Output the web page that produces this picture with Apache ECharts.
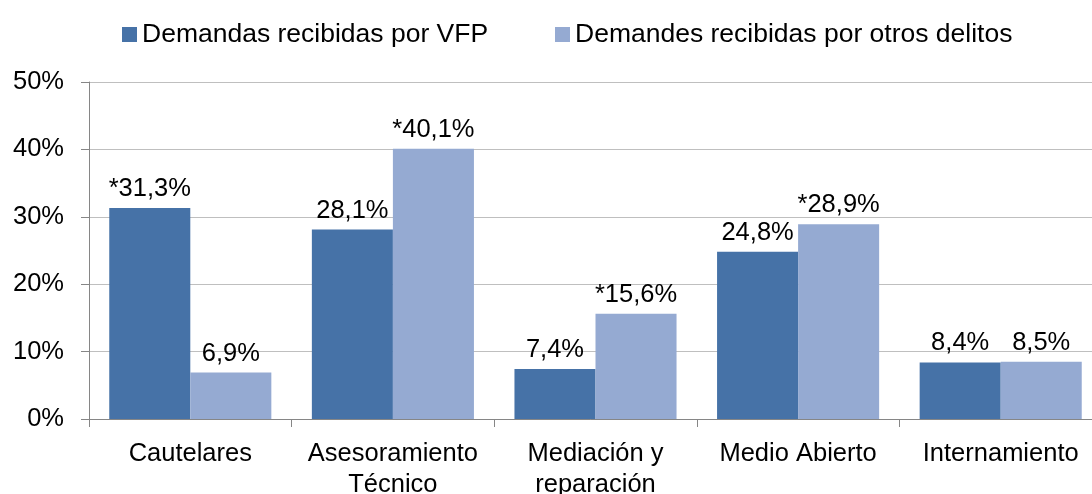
<!DOCTYPE html>
<html><head><meta charset="utf-8">
<style>html,body{margin:0;padding:0;background:#fff}#c{width:1092px;height:494px}</style>
<script src="https://cdn.jsdelivr.net/npm/echarts@6/dist/echarts.min.js"></script>
</head><body><div id="c"></div>
<script>
const categories = ['Cautelares', 'Asesoramiento\nTécnico', 'Mediación y\nreparación', 'Medio Abierto', 'Internamiento'];
const seriesNames = ['Demandas recibidas por VFP', 'Demandes recibidas por otros delitos'];
const vfpValues = [31.3, 28.1, 7.4, 24.8, 8.4];
const otrosValues = [6.9, 40.1, 15.6, 28.9, 8.5];
const vfpStar = [true, false, false, false, false];
const otrosStar = [false, true, true, true, false];
const yTicks = [0, 10, 20, 30, 40, 50];

const FONT = '"Liberation Sans", Arial, sans-serif';
const FS = 25.5;
const fmt = (stars) => (p) => (stars[p.dataIndex] ? '*' : '') + p.value.toFixed(1).replace('.', ',') + '%';
const legendBase = {
  top: 16, itemWidth: 15, itemHeight: 15, itemGap: 0, icon: 'rect',
  textStyle: { fontSize: 26.5, color: '#000', fontFamily: FONT }
};

const chart = echarts.init(document.getElementById('c'));
chart.setOption({
  animation: false,
  textStyle: { fontFamily: FONT },
  color: ['#4672a7', '#95aad2'],
  legend: [
    Object.assign({}, legendBase, { left: 117, data: [seriesNames[0]] }),
    Object.assign({}, legendBase, { left: 550, data: [seriesNames[1]] })
  ],
  grid: { left: 89, right: -10, top: 82, bottom: 75, containLabel: false, outerBoundsMode: 'none' },
  xAxis: {
    type: 'category',
    data: categories,
    axisLine: { lineStyle: { color: '#868686', width: 1 } },
    axisTick: { show: true, length: 8, lineStyle: { color: '#868686' }, alignWithLabel: false },
    axisLabel: { fontSize: FS, color: '#000', margin: 19, lineHeight: 31, interval: 0, fontFamily: FONT }
  },
  yAxis: {
    type: 'value', min: yTicks[0], max: yTicks[yTicks.length - 1], interval: 10,
    axisLine: { show: true, lineStyle: { color: '#868686' } },
    axisTick: { show: true, length: 8, lineStyle: { color: '#868686' } },
    splitLine: { lineStyle: { color: '#bfbfbf', width: 1 } },
    axisLabel: { fontSize: FS, color: '#000', margin: 25, formatter: '{value}%', fontFamily: FONT }
  },
  series: [
    {
      name: seriesNames[0], type: 'bar', data: vfpValues,
      barGap: '0%', barCategoryGap: '20%',
      label: { show: true, position: 'top', distance: 6, fontSize: FS, color: '#000', fontFamily: FONT, formatter: fmt(vfpStar) }
    },
    {
      name: seriesNames[1], type: 'bar', data: otrosValues,
      barGap: '0%', barCategoryGap: '20%',
      label: { show: true, position: 'top', distance: 6, fontSize: FS, color: '#000', fontFamily: FONT, formatter: fmt(otrosStar) }
    }
  ]
});
</script></body></html>
